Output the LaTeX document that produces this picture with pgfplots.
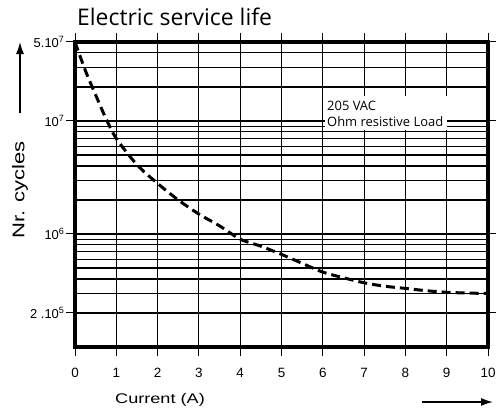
\documentclass[border=0pt]{standalone}
\usepackage{fontspec}
\setmainfont{Liberation Sans}
\newfontfamily\titlefont{Open Sans}
\newfontfamily\widefont[FakeStretch=1.3]{Liberation Sans}
\usepackage{pgfplots}
\pgfplotsset{compat=1.18}
\usetikzlibrary{arrows.meta}
\begin{document}
\begin{tikzpicture}[x=1bp,y=1bp]
\useasboundingbox (0,0) rectangle (496,414);
\begin{axis}[
  at={(75bp,67bp)}, anchor=south west,
  scale only axis, width=413bp, height=305bp,
  ymode=log, xmin=0, xmax=10, ymin=1e5, ymax=5e7,
  xtick={0,1,2,3,4,5,6,7,8,9,10},
  xticklabels={0,1,2,3,4,5,6,7,8,9,10},
  ytick={2e5,1e6,1e7,5e7},
  yticklabels={2 .10\textsuperscript{5},10\textsuperscript{6},10\textsuperscript{7},5.10\textsuperscript{7}},
  minor ytick={3e5,4e5,5e5,6e5,7e5,8e5,9e5,2e6,3e6,4e6,5e6,6e6,7e6,8e6,9e6,2e7,3e7,4e7},
  grid=both,
  major grid style={black, line width=1.1bp},
  minor grid style={black, line width=1.1bp},
  axis line style={black, line width=3.5bp},
  tick align=outside, major tick length=9bp, minor tick length=0pt,
  tick style={black, line width=1bp},
  xticklabel style={font=\fontsize{13.5}{13.5}\selectfont, yshift=-9bp},
  yticklabel style={font=\fontsize{13}{13}\selectfont, xshift=2bp},
  clip=false,
]
\addplot[black, line width=3bp, dash pattern=on 9bp off 5bp, smooth, tension=0.5] coordinates {
(0,5e7) (0.25,2.8e7) (0.5,1.7e7) (0.75,1.05e7) (1,7e6) (1.5,4.1e6) (2,2.8e6) (2.5,2e6)
(3,1.5e6) (3.5,1.18e6) (4,9e5) (4.5,7.8e5) (5,6.6e5) (5.5,5.5e5) (6,4.6e5) (6.5,4.1e5)
(7,3.7e5) (7.5,3.45e5) (8,3.3e5) (8.5,3.15e5) (9,3.05e5) (9.5,3.0e5) (10,2.98e5)};
\end{axis}
\fill[white] (325,284) rectangle (447,318);
\node[anchor=base west, inner sep=0, font=\titlefont\fontsize{13}{13}\selectfont] at (327,304) {205 VAC};
\node[anchor=base west, inner sep=0, font=\titlefont\fontsize{13}{13}\selectfont] at (327,288) {Ohm resistive Load};
\node[anchor=base west, inner sep=0, font=\titlefont\fontsize{23}{23}\selectfont] at (77,388) {Electric service life};
\node[rotate=90, inner sep=0, font=\widefont\fontsize{17}{17}\selectfont] at (20,224) {Nr. cycles};
\node[inner sep=0, font=\widefont\fontsize{14}{14}\selectfont] at (160,14) {Current (A)};
\draw[line width=1.5bp, -{Latex[length=12bp,width=8bp]}] (20,301) -- (20,372);
\draw[line width=1.5bp, -{Latex[length=12bp,width=8bp]}] (422,12) -- (493,12);
\end{tikzpicture}
\end{document}
